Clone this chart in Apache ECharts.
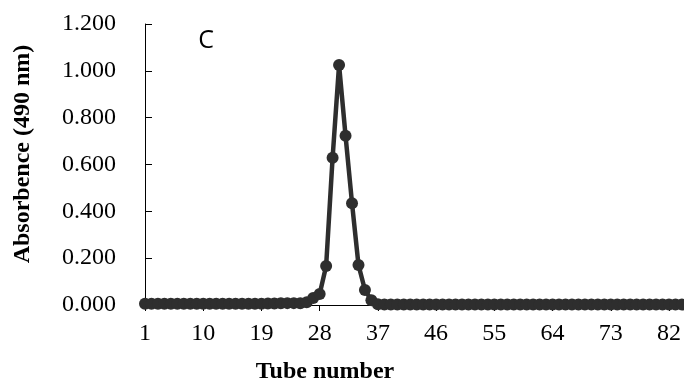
<!DOCTYPE html>
<html>
<head>
<meta charset="utf-8">
<script src="https://cdn.jsdelivr.net/npm/echarts@6/dist/echarts.min.js"></script>
<style>html,body{margin:0;padding:0;background:#fff}#c{width:684px;height:386px}</style>
</head>
<body>
<div id="c"></div>
<script>
var tubes = [];
for (var i = 1; i <= 84; i++) tubes.push(String(i));
var absorbance = [
  0.005,0.005,0.005,0.005,0.005,0.005,0.005,0.005,0.005,0.005,
  0.005,0.005,0.005,0.005,0.005,0.005,0.005,0.005,0.005,0.006,
  0.006,0.007,0.008,0.008,0.007,0.012,0.030,0.047,0.167,0.629,
  1.025,0.723,0.435,0.171,0.064,0.020,0.003,0.002,0.002,0.002,
  0.002,0.002,0.002,0.002,0.002,0.002,0.002,0.002,0.002,0.002,
  0.002,0.002,0.002,0.002,0.002,0.002,0.002,0.002,0.002,0.002,
  0.002,0.002,0.002,0.002,0.002,0.002,0.002,0.002,0.002,0.002,
  0.002,0.002,0.002,0.002,0.002,0.002,0.002,0.002,0.002,0.002,
  0.002,0.002,0.002,0.002
];
var yTicks = [0, 0.2, 0.4, 0.6, 0.8, 1.0, 1.2];

var chart = echarts.init(document.getElementById('c'));
var serif = '"Liberation Serif", "Times New Roman", serif';
chart.setOption({
  animation: false,
  grid: { left: 145, right: 0, top: 24, bottom: 81 },
  xAxis: {
    type: 'category',
    data: tubes,
    boundaryGap: false,
    axisLine: { lineStyle: { color: '#000', width: 1 } },
    axisTick: { interval: 8, length: 6, lineStyle: { color: '#000' } },
    axisLabel: { interval: 8, color: '#000', fontFamily: serif, fontSize: 24, margin: 17 },
    splitLine: { show: false }
  },
  yAxis: {
    type: 'value',
    min: yTicks[0], max: yTicks[yTicks.length - 1], interval: 0.2,
    axisLine: { show: true, lineStyle: { color: '#000', width: 1 } },
    axisTick: { show: true, inside: true, length: 7, lineStyle: { color: '#000' } },
    axisLabel: { color: '#000', fontFamily: serif, fontSize: 24, margin: 29,
      formatter: function (v) { return v.toFixed(3); } },
    splitLine: { show: false }
  },
  series: [{
    type: 'line',
    data: absorbance,
    symbol: 'circle',
    symbolSize: 12,
    showAllSymbol: true,
    clip: false,
    lineStyle: { color: '#2e2e2e', width: 4.5 },
    itemStyle: { color: '#2e2e2e' }
  }],
  graphic: [
    { type: 'text', x: 23, y: 154, rotation: Math.PI / 2,
      style: { text: 'Absorbence (490 nm)', font: 'bold 24px ' + serif, fill: '#000', align: 'center', verticalAlign: 'middle' } },
    { type: 'text', x: 325, y: 372,
      style: { text: 'Tube number', font: 'bold 24px ' + serif, fill: '#000', align: 'center', verticalAlign: 'middle' } },
    { type: 'text', x: 206, y: 41,
      style: { text: 'C', font: '25px "Open Sans", sans-serif', fill: '#000', align: 'center', verticalAlign: 'middle' } }
  ]
});
</script>
</body>
</html>
